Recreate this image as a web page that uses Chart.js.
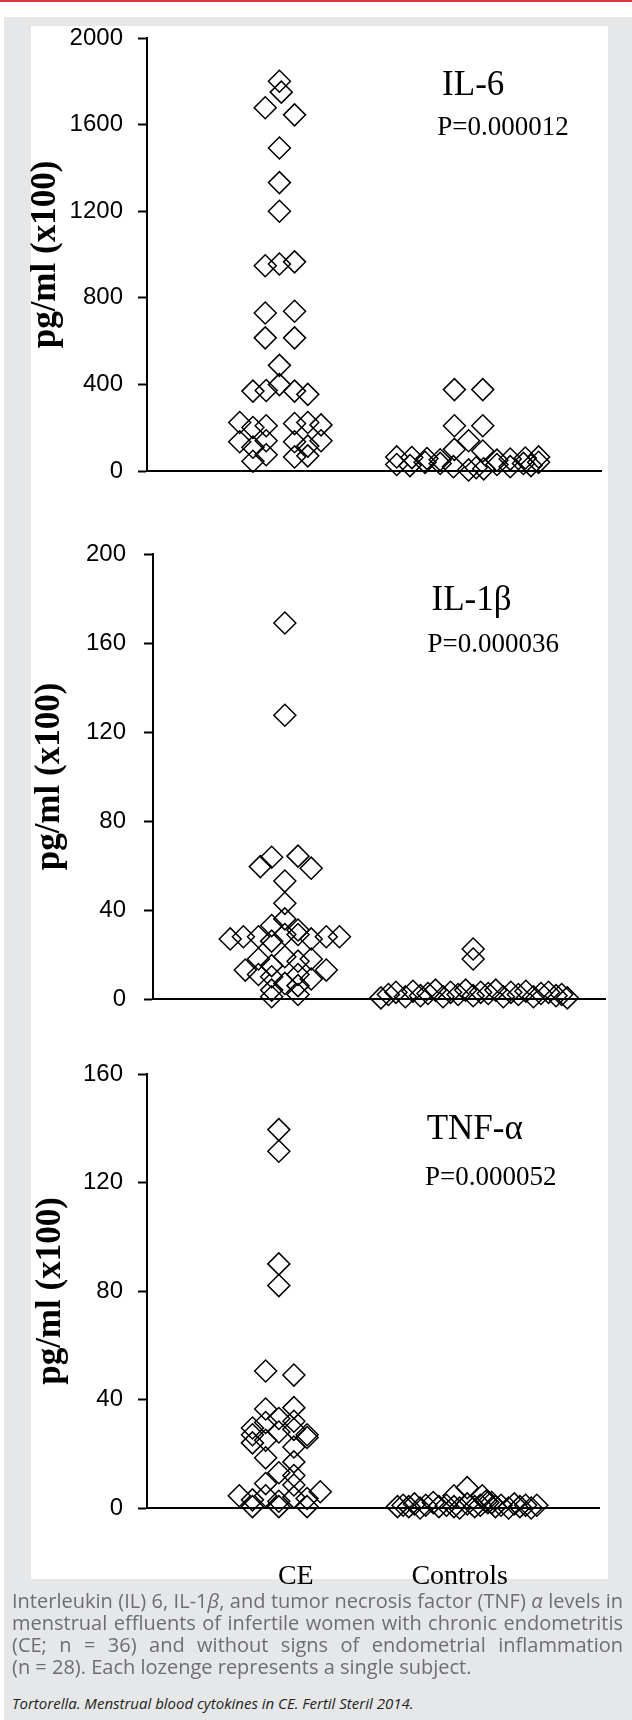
<!DOCTYPE html>
<html>
<head>
<meta charset="utf-8">
<script src="https://cdn.jsdelivr.net/npm/chart.js@4.4.1/dist/chart.umd.min.js"></script>
<style>
  body { margin: 0; width: 632px; height: 1720px; position: relative; background: #fff; overflow: hidden; }
  #topline { position: absolute; left: 0; top: 0; width: 632px; height: 2px; background: #d9363e; }
  #frame { position: absolute; left: 4px; top: 17px; width: 628px; height: 1703px; background: #e6e7e8; }
  #panel { position: absolute; left: 31px; top: 26px; width: 577px; height: 1553px; background: #fff; }
  canvas { position: absolute; left: 0; }
  #caption { position: absolute; left: 12px; top: 1590px; width: 611px; font-family: 'Open Sans', 'Noto Sans', sans-serif; font-size: 20px; line-height: 22px; color: #6d6e71; }
  #caption div { text-align: justify; text-align-last: justify; white-space: nowrap; }
  #caption div.last { text-align-last: left; }
  #cite { position: absolute; left: 12px; top: 1694px; font-family: 'Open Sans', 'Noto Sans', sans-serif; font-style: italic; font-size: 15px; line-height: 18px; color: #231f20; }
</style>
</head>
<body>
<div id="topline"></div>
<div id="frame"></div>
<div id="panel"></div>
<canvas id="il6" width="632" height="510" style="top:0px"></canvas>
<canvas id="il1b" width="632" height="525" style="top:510px"></canvas>
<canvas id="tnfa" width="632" height="565" style="top:1035px"></canvas>
<div id="caption">
  <div>Interleukin (IL) 6, IL-1<i>β</i>, and tumor necrosis factor (TNF) <i>α</i> levels in</div>
  <div>menstrual effluents of infertile women with chronic endometritis</div>
  <div>(CE; n = 36) and without signs of endometrial inflammation</div>
  <div class="last">(n = 28). Each lozenge represents a single subject.</div>
</div>
<div id="cite">Tortorella. Menstrual blood cytokines in CE. Fertil Steril 2014.</div>

<script>
// groups on the x axis
var groupLabels = ['CE', 'Controls'];
var groupCenters = [1, 2];
var groupLabelPos = [1.09, 1.96];

// IL-6 (pg/ml x100)
var il6Ticks = [0, 400, 800, 1200, 1600, 2000];
var il6CE = [1800, 1750, 1678, 1645, 1492, 1332, 1200,
             948, 956, 966, 730, 738, 615, 615, 488,
             369, 372, 399, 369, 354,
             224, 201, 209, 219, 224, 213,
             135, 140, 135, 115, 140, 110,
             75, 65, 70, 45];
var il6CEJitter = [0, 0.01, -0.075, 0.08, 0, 0, 0,
                   -0.075, 0, 0.08, -0.075, 0.08, -0.075, 0.08, 0,
                   -0.14, -0.07, 0, 0.08, 0.15,
                   -0.21, -0.14, -0.07, 0.08, 0.15, 0.22,
                   -0.21, -0.07, 0.08, 0.15, 0.22, -0.14,
                   -0.07, 0.08, 0.15, -0.14];
var il6Ctl = [376, 376, 209, 209, 140, 100, 92,
              65, 62, 58, 52, 50, 55, 60, 65,
              30, 25, 40, 35, 20, 5, 15, 10, 30, 20, 35, 25, 40];
var il6CtlJitter = [-0.075, 0.075, -0.075, 0.075, 0, -0.075, 0.075,
                    -0.38, -0.30, -0.22, -0.15, 0.15, 0.22, 0.30, 0.37,
                    -0.38, -0.31, -0.23, -0.15, -0.08, 0, 0.04, 0.08, 0.15, 0.22, 0.29, 0.33, 0.37];

// IL-1beta (pg/ml x100)
var il1bTicks = [0, 40, 80, 120, 160, 200];
var il1bCE = [169, 127.5,
              59.5, 63.7, 64.2, 58.8, 53, 43,
              33, 36, 31,
              27, 28, 28, 26, 29, 29, 27, 28, 28,
              13, 18, 15, 19, 17, 18, 13,
              11, 10, 7, 11, 9,
              4, 6, 1, 2];
var il1bCEJitter = [0, 0,
                    -0.13, -0.07, 0.07, 0.14, 0, 0,
                    -0.07, 0, 0.07,
                    -0.29, -0.22, -0.14, -0.07, 0, 0.07, 0.14, 0.22, 0.29,
                    -0.21, -0.14, -0.07, 0, 0.07, 0.14, 0.22,
                    -0.14, -0.07, 0, 0.07, 0.14,
                    -0.07, 0.07, -0.07, 0.07];
var il1bCtl = [22.5, 18,
               0.5, 2, 3, 1, 3.5, 1.5, 2.5, 4, 1, 3, 2, 4, 1.5,
               3, 2.5, 4, 1, 3, 2, 3.5, 1, 2.5, 3, 1.5, 2, 0.5];
var il1bCtlJitter = [0, 0,
                     -0.49, -0.45, -0.41, -0.36, -0.32, -0.28, -0.24, -0.2, -0.16, -0.12, -0.08, -0.04, 0,
                     0.04, 0.08, 0.12, 0.16, 0.2, 0.24, 0.28, 0.32, 0.36, 0.4, 0.44, 0.47, 0.5];

// TNF-alpha (pg/ml x100)
var tnfaTicks = [0, 40, 80, 120, 160];
var tnfaCE = [139.5, 131.5, 90, 82, 50.5, 49,
              36.5, 37, 33, 29.5, 31.5, 32, 29, 28,
              26, 24, 22.5, 27, 27,
              18.5, 17, 13, 25, 12, 9, 8.5,
              4.5, 3, 4.5, 2.5, 4, 3.5, 6,
              0.5, 0.5, 0.5];
var tnfaCEJitter = [0, 0, 0, 0, -0.07, 0.08,
                    -0.07, 0.08, 0, -0.14, -0.07, 0.08, 0.08, 0,
                    0.15, -0.14, 0.08, -0.14, 0.15,
                    -0.07, 0.08, 0, -0.07, 0.08, -0.07, 0.08,
                    -0.21, -0.14, -0.07, 0, 0.08, 0.15, 0.22,
                    -0.14, 0, 0.15];
var tnfaCtl = [7.5, 4.5, 4.5,
               0.5, 1, 0.5, 1.5, 0, 1, 2, 0.5, 1, 0, 1.5, 0.5, 2,
               0.5, 1, 0, 1.5, 0.5, 1, 0, 1, 0.5, 1, 2, 2.5];
var tnfaCtlJitter = [0, -0.07, 0.08,
                     -0.37, -0.34, -0.31, -0.28, -0.25, -0.22, -0.18, -0.15, -0.11, -0.04, 0, 0.04, 0.11,
                     0.15, 0.18, 0.22, 0.25, 0.28, 0.31, 0.34, 0.37, -0.07, 0.07, 0.13, 0.1];

function toPoints(center, jitter, values) {
  return values.map(function(v, i) { return { x: center + jitter[i], y: v }; });
}

// P values and cytokine names written inside each panel
var panelText = {
  id: 'panelText',
  afterDatasetsDraw: function(chart, args, opts) {
    var ctx = chart.ctx;
    var xs = chart.scales.x, ys = chart.scales.y;
    ctx.save();
    ctx.fillStyle = '#000';
    ctx.textAlign = 'left';
    ctx.textBaseline = 'alphabetic';
    opts.items.forEach(function(it) {
      ctx.font = it.font;
      ctx.fillText(it.text, xs.getPixelForValue(it.x), ys.getPixelForValue(it.y));
    });
    ctx.restore();
  }
};

function makePanel(id, p) {
  return new Chart(document.getElementById(id), {
    type: 'scatter',
    data: {
      datasets: [
        { data: toPoints(groupCenters[0], p.ceJitter, p.ce) },
        { data: toPoints(groupCenters[1], p.ctlJitter, p.ctl) }
      ]
    },
    options: {
      responsive: false,
      animation: false,
      events: [],
      layout: { padding: p.pad },
      elements: {
        point: { pointStyle: 'rectRot', radius: 11, hoverRadius: 11, borderWidth: 1.5,
                 borderColor: '#000', backgroundColor: 'rgba(0,0,0,0)' }
      },
      datasets: { scatter: { clip: false } },
      plugins: {
        legend: { display: false },
        tooltip: { enabled: false },
        panelText: { items: p.text }
      },
      scales: {
        x: {
          type: 'linear', min: 0.3, max: 2.7,
          grid: { display: false },
          border: { display: true, color: '#000', width: 2 },
          afterBuildTicks: function(s) {
            s.ticks = p.showGroups ? groupLabelPos.map(function(v) { return { value: v }; }) : [];
          },
          ticks: {
            display: p.showGroups, autoSkip: false, maxRotation: 0, padding: 44, color: '#000',
            font: { family: 'Liberation Serif', size: 28 },
            callback: function(v, i) { return groupLabels[i]; }
          },
          afterFit: function(s) { s.height = p.xAxisHeight; }
        },
        y: {
          min: 0, max: p.ticks[p.ticks.length - 1],
          afterBuildTicks: function(s) { s.ticks = p.ticks.map(function(v) { return { value: v }; }); },
          grid: { drawOnChartArea: false, tickLength: 9, tickWidth: 2, tickColor: '#000' },
          border: { display: true, color: '#000', width: 2 },
          ticks: { color: '#000', padding: p.tickPad, font: { family: 'Liberation Sans', size: 24 },
                   callback: function(v) { return String(v); } },
          title: { display: true, text: 'pg/ml (x100)', color: '#000', padding: 0,
                   font: { family: 'Liberation Serif', size: 35, weight: 'bold', lineHeight: 1 } },
          afterFit: function(s) { s.width = p.axisX - p.pad.left; }
        }
      }
    },
    plugins: [panelText]
  });
}

makePanel('il6', {
  ce: il6CE, ceJitter: il6CEJitter, ctl: il6Ctl, ctlJitter: il6CtlJitter, ticks: il6Ticks,
  pad: { left: 28, right: 31, top: 38, bottom: 29 }, axisX: 147, tickPad: 15,
  xAxisHeight: 10, showGroups: false,
  text: [
    { text: 'IL-6', x: 1.86, y: 1737, font: '35px "Liberation Serif"' },
    { text: 'P=0.000012', x: 1.834, y: 1552, font: '27px "Liberation Serif"' }
  ]
});

makePanel('il1b', {
  ce: il1bCE, ceJitter: il1bCEJitter, ctl: il1bCtl, ctlJitter: il1bCtlJitter, ticks: il1bTicks,
  pad: { left: 32, right: 27, top: 44, bottom: 26 }, axisX: 153, tickPad: 18,
  xAxisHeight: 10, showGroups: false,
  text: [
    { text: 'IL-1β', x: 1.779, y: 175, font: '35px "Liberation Serif"' },
    { text: 'P=0.000036', x: 1.757, y: 156, font: '27px "Liberation Serif"' }
  ]
});

makePanel('tnfa', {
  ce: tnfaCE, ceJitter: tnfaCEJitter, ctl: tnfaCtl, ctlJitter: tnfaCtlJitter, ticks: tnfaTicks,
  pad: { left: 33, right: 33, top: 39, bottom: 10 }, axisX: 147, tickPad: 15,
  xAxisHeight: 82, showGroups: true,
  text: [
    { text: 'TNF-α', x: 1.785, y: 136, font: '35px "Liberation Serif"' },
    { text: 'P=0.000052', x: 1.776, y: 119.1, font: '27px "Liberation Serif"' }
  ]
});
</script>
</body>
</html>
